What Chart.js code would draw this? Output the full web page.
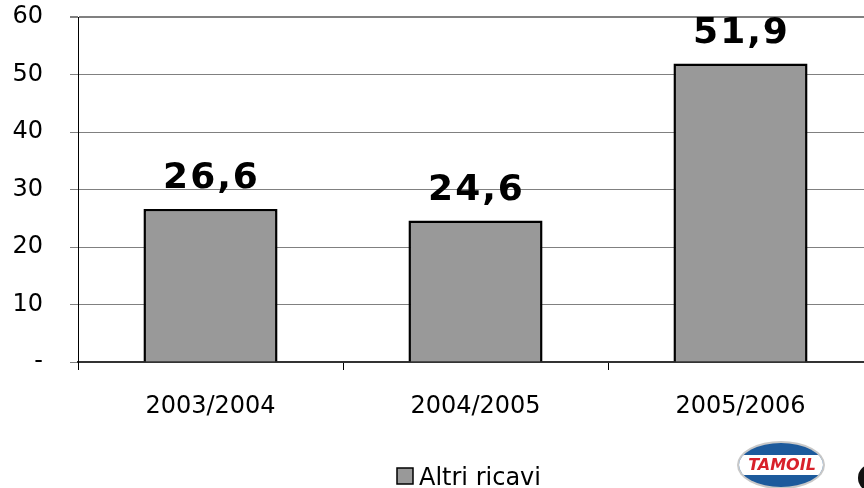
<!DOCTYPE html>
<html>
<head>
<meta charset="utf-8">
<script src="https://cdn.jsdelivr.net/npm/chart.js@4"></script>
<style>
  html, body { margin: 0; padding: 0; background: #fff; overflow: hidden; }
  #wrap { width: 880px; height: 488px; }
</style>
</head>
<body>
<div id="wrap"><canvas id="chart" width="880" height="488"></canvas></div>
<script>
// Dati del grafico
const categories = ['2003/2004', '2004/2005', '2005/2006'];
const altriRicavi = [26.6, 24.6, 51.9];
const seriesName = 'Altri ricavi';
const yTicks = [0, 10, 20, 30, 40, 50, 60];

const FONT = "'DejaVu Sans', Verdana, sans-serif";

// Etichette sopra le barre, legenda e logo
const extras = {
    id: 'extras',
    afterDatasetsDraw(chart) {
        const ctx = chart.ctx;
        const meta = chart.getDatasetMeta(0);
        ctx.save();
        ctx.fillStyle = '#000';
        ctx.font = 'bold 36px ' + FONT;
        ctx.textAlign = 'center';
        ctx.textBaseline = 'alphabetic';
        ctx.letterSpacing = '2px';
        meta.data.forEach((bar, i) => {
            const txt = altriRicavi[i].toFixed(1).replace('.', ',');
            ctx.fillText(txt, bar.x + 1, bar.y - 21);
        });
        ctx.restore();
    },
    afterDraw(chart) {
        const ctx = chart.ctx;
        ctx.save();
        // legenda
        ctx.fillStyle = '#999999';
        ctx.fillRect(397, 468, 16, 16);
        ctx.strokeStyle = '#000';
        ctx.lineWidth = 1.5;
        ctx.strokeRect(397, 468, 16, 16);
        ctx.fillStyle = '#000';
        ctx.font = '24px ' + FONT;
        ctx.textAlign = 'left';
        ctx.textBaseline = 'alphabetic';
        ctx.fillText(seriesName, 419, 485);

        // logo (approssimato)
        ctx.beginPath();
        ctx.ellipse(781, 465, 44, 24, 0, 0, Math.PI * 2);
        ctx.fillStyle = '#c8c8c8';
        ctx.fill();
        ctx.beginPath();
        ctx.ellipse(781, 465, 42, 22, 0, 0, Math.PI * 2);
        ctx.fillStyle = '#1d5a9c';
        ctx.fill();
        ctx.save();
        ctx.clip();
        ctx.fillStyle = '#fff';
        ctx.fillRect(735, 455, 92, 20);
        ctx.restore();
        ctx.fillStyle = '#d8202a';
        ctx.font = 'italic bold 16px ' + FONT;
        ctx.textAlign = 'center';
        ctx.textBaseline = 'middle';
        ctx.fillText('TAMOIL', 782, 466);
        // oggetto nero tagliato a destra
        ctx.beginPath();
        ctx.ellipse(872, 478, 14, 14, 0, 0, Math.PI * 2);
        ctx.fillStyle = '#111';
        ctx.fill();
        ctx.restore();
    }
};

new Chart(document.getElementById('chart'), {
    type: 'bar',
    data: {
        labels: categories,
        datasets: [{
            label: seriesName,
            data: altriRicavi,
            backgroundColor: '#999999',
            borderColor: '#000000',
            borderWidth: 2.5,
            categoryPercentage: 1,
            barPercentage: 0.506
        }]
    },
    options: {
        responsive: false,
        animation: false,
        devicePixelRatio: 1,
        layout: { padding: { top: 17, right: 7, left: 0, bottom: 0 } },
        plugins: {
            legend: { display: false },
            tooltip: { enabled: false }
        },
        scales: {
            x: {
                afterFit: s => {
                    s.height = 126;
                    s.paddingLeft = 0;
                    s.paddingRight = 0;
                },
                grid: {
                    drawOnChartArea: false,
                    drawTicks: true,
                    tickLength: 8,
                    tickColor: '#000'
                },
                border: { color: '#333', width: 2 },
                ticks: {
                    color: '#000',
                    padding: 22,
                    font: { family: FONT, size: 24 }
                }
            },
            y: {
                min: 0,
                max: 60,
                afterFit: s => {
                    s.width = 78;
                    s.paddingTop = 0;
                    s.paddingBottom = 0;
                },
                afterBuildTicks: s => { s.ticks = yTicks.map(v => ({ value: v })); },
                grid: {
                    color: '#808080',
                    lineWidth: c => (c.tick && c.tick.value === 60 ? 2 : 1),
                    tickLength: 8
                },
                border: { color: '#000', width: 1 },
                ticks: {
                    color: '#000',
                    padding: 27,
                    font: { family: FONT, size: 24 },
                    callback: v => (v === 0 ? '-' : v)
                }
            }
        }
    },
    plugins: [extras]
});
</script>
</body>
</html>
